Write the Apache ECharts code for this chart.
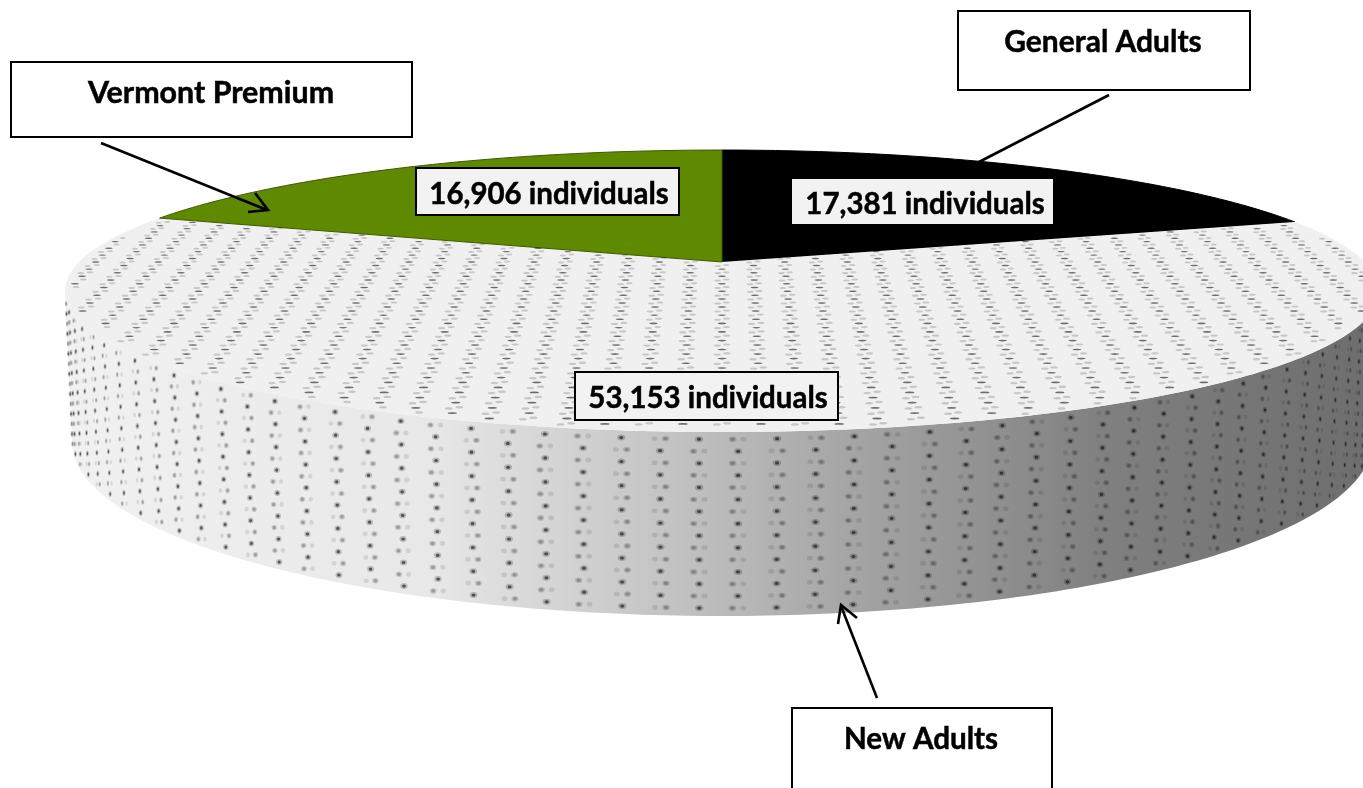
<!DOCTYPE html>
<html>
<head>
<meta charset="utf-8">
<style>html,body{margin:0;padding:0;background:#fff;overflow:hidden}#c{width:1363px;height:788px}</style>
<script src="https://cdn.jsdelivr.net/npm/echarts@6/dist/echarts.min.js"></script>
</head>
<body>
<div id="c"></div>
<script>
// clockwise from twelve o'clock
const categories = ['General Adults', 'New Adults', 'Vermont Premium'];
const individuals = [17381, 53153, 16906];
const sliceColors = ['#000000', '#f0f0f0', '#5f8a00'];
const valueSuffix = ' individuals';

const total = individuals.reduce((a, b) => a + b, 0);
const TAU = Math.PI * 2;
// tilted disc: perspective projection of the unit circle
const CX = 722, APEX_Y = 262, R = 643, S = 135, K = 0.2057;
const project = (u, v) => { const w = 1 + K * v; return [CX + R * u / w, APEX_Y - S * v / w]; };
// rim ellipses
const TOP = { rx: 657, ry: 141, cy: 291 }, BOT = { rx: 650, ry: 174, cy: 442 };
const rim = (e, phi) => [CX + e.rx * Math.sin(phi), e.cy + e.ry * Math.cos(phi)];

const layout = [
  { valueBox: [792, 179, 261, 45], valueText: [925, 204], border: false, titleScale: 0.966,
    box: [958, 11, 292, 79], title: [1103, 42], line: [[1109, 95], [977, 163]], head: null },
  { valueBox: [575, 372, 263, 48], valueText: [708, 398], border: true, titleScale: 0.956,
    box: [792, 708, 260, 100], title: [921, 739], line: [[877, 698], [841, 606]], head: [[838, 624], [841, 605], [857, 618]] },
  { valueBox: [416, 168, 263, 47], valueText: [549, 194], border: true, titleScale: 0.98,
    box: [11, 62, 401, 75], title: [211, 93], line: [[101, 143], [267, 210]], head: [[248, 212], [268, 210], [255, 193]] }
];
const VALUE_SCALE = 0.95;

function blob(cx, cy, a, b) {
  return 'M' + (cx - a).toFixed(1) + ' ' + cy.toFixed(1) +
    'Q' + (cx - a).toFixed(1) + ' ' + (cy - b).toFixed(1) + ' ' + cx.toFixed(1) + ' ' + (cy - b).toFixed(1) +
    'Q' + (cx + a).toFixed(1) + ' ' + (cy - b).toFixed(1) + ' ' + (cx + a).toFixed(1) + ' ' + cy.toFixed(1) +
    'Q' + (cx + a).toFixed(1) + ' ' + (cy + b).toFixed(1) + ' ' + cx.toFixed(1) + ' ' + (cy + b).toFixed(1) +
    'Q' + (cx - a).toFixed(1) + ' ' + (cy + b).toFixed(1) + ' ' + (cx - a).toFixed(1) + ' ' + cy.toFixed(1) + 'Z';
}
function sideTexture() {
  const layers = { hi: '', hiGlow: '', mid: '', midGlow: '', low: '' };
  const dPhi = 0.0595, phi0 = -0.035, N = 15.25;
  for (let j = -27; j <= 26; j++) {
    const phi = phi0 + j * dPhi;
    if (Math.abs(phi) > 1.56) continue;
    const c = Math.cos(phi), sx = Math.max(c, 0.35);
    const a = rim(TOP, phi), b = rim(BOT, phi);
    for (let i = 0; i < 16; i++) {
      const t = (i + 0.6) / N;
      if (t > 0.985) continue;
      const x = a[0] + (b[0] - a[0]) * t, y = a[1] + (b[1] - a[1]) * t;
      if ((i + j) % 2 === 0) {
        layers.hi += blob(x, y, 2.1 * sx, 1.6);
        layers.hiGlow += blob(x, y, 4.2 * sx, 3);
      } else {
        const off = 5.5 * c, left = (j % 4 + 4) % 4 < 2;
        layers.mid += blob(x + (left ? -off : off), y, 2.2 * sx, 1.7);
        layers.midGlow += blob(x + (left ? -off : off), y, 3.8 * sx, 2.8);
        layers.low += blob(x + (left ? off : -off), y, 3 * sx, 2.4);
      }
    }
  }
  return layers;
}
function topTexture(start, end) {
  const dark = [], faint = [];
  const du = 0.0487, dv = 0.026;
  const inSlice = (u, v) => {
    if (u * u + v * v > 0.975) return false;
    let th = Math.atan2(u, v); if (th < 0) th += TAU;
    return th > start + 0.01 && th < end - 0.01;
  };
  for (let k = -21; k <= 21; k++) {
    for (let m = -39; m <= 39; m++) {
      const u = k * du, v = m * dv;
      if ((k + m) % 2 === 0) {
        if (!inSlice(u, v)) continue;
        const p = project(u, v), sc = 1 / (1 + K * v);
        dark.push(blob(p[0], p[1], 3.8 * sc, 0.7 * sc));
      } else {
        [-0.0065, 0.0065].forEach(off => {
          if (!inSlice(u + off, v)) return;
          const p = project(u + off, v + off * 0.5), sc = 1 / (1 + K * v);
          faint.push(blob(p[0], p[1], 3.2 * sc, 1 * sc));
        });
      }
    }
  }
  return { dark: dark.join(''), faint: faint.join('') };
}

function renderItem(params, api) {
  const i = params.dataIndex;
  let before = 0;
  for (let n = 0; n < i; n++) before += individuals[n];
  const start = before / total * TAU, end = (before + api.value(0)) / total * TAU;
  const L = layout[i], children = [];

  const pts = [project(0, 0)];
  const steps = Math.max(24, Math.round((end - start) * 50));
  for (let s = 0; s <= steps; s++) {
    const a = start + (end - start) * s / steps;
    pts.push(project(Math.sin(a), Math.cos(a)));
  }
  children.push({ type: 'polygon', z2: 3, shape: { points: pts },
    style: { fill: sliceColors[i], stroke: i === 1 ? null : (i === 2 ? '#3d5a00' : '#000'), lineWidth: 1 } });

  if (i === 1) {
    const sidePts = [];
    for (let s = -90; s <= 90; s++) sidePts.push(rim(TOP, s * Math.PI / 180));
    for (let s = 90; s >= -90; s--) sidePts.push(rim(BOT, s * Math.PI / 180));
    children.push({ type: 'polygon', z2: 1, shape: { points: sidePts },
      style: { fill: new echarts.graphic.LinearGradient(65, 0, 1363, 0, [
        { offset: 0, color: '#f1f1f1' }, { offset: 0.28, color: '#e8e8e8' },
        { offset: 0.37, color: '#d6d6d6' }, { offset: 0.48, color: '#c0c0c0' },
        { offset: 0.6, color: '#a6a6a6' }, { offset: 0.8, color: '#808080' },
        { offset: 1, color: '#6e6e6e' }], true) } });
    const side = sideTexture();
    [['hiGlow', 0.2], ['hi', 0.55], ['midGlow', 0.14], ['mid', 0.22], ['low', 0.1]].forEach(d => {
      children.push({ type: 'path', z2: 2, shape: { pathData: side[d[0]] },
        style: { fill: 'rgba(0,0,0,' + d[1] + ')' } });
    });
    const tex = topTexture(start, end);
    children.push({ type: 'path', z2: 4, shape: { pathData: tex.faint }, style: { fill: 'rgba(0,0,0,0.17)' } });
    children.push({ type: 'path', z2: 4, shape: { pathData: tex.dark }, style: { fill: 'rgba(0,0,0,0.55)' } });
  }

  const textFont = '700 31px Lato';
  children.push({ type: 'rect', z2: 7, shape: { x: L.valueBox[0], y: L.valueBox[1], width: L.valueBox[2], height: L.valueBox[3] },
    style: { fill: '#f2f2f2', stroke: L.border ? '#000' : null, lineWidth: 2 } });
  children.push({
    type: 'text', z2: 8, x: L.valueText[0], y: L.valueText[1], scaleX: VALUE_SCALE,
    style: { text: api.value(0).toLocaleString('en-US') + valueSuffix, font: textFont, fill: '#000',
      stroke: '#000', lineWidth: 0.5, align: 'center', verticalAlign: 'middle' }
  });
  children.push({ type: 'rect', z2: 7, shape: { x: L.box[0], y: L.box[1], width: L.box[2], height: L.box[3] },
    style: { fill: '#fff', stroke: '#000', lineWidth: 2 } });
  children.push({
    type: 'text', z2: 8, x: L.title[0], y: L.title[1], scaleX: L.titleScale,
    style: { text: categories[i], font: textFont, fill: '#000', stroke: '#000', lineWidth: 0.5,
      align: 'center', verticalAlign: 'middle' }
  });
  children.push({ type: 'polyline', z2: 9, shape: { points: L.line }, style: { fill: null, stroke: '#000', lineWidth: 2.6 } });
  if (L.head) children.push({ type: 'polyline', z2: 9, shape: { points: L.head }, style: { fill: null, stroke: '#000', lineWidth: 2.6 } });
  return { type: 'group', children };
}

const chart = echarts.init(document.getElementById('c'), null, { renderer: 'canvas', width: 1363, height: 788 });
chart.setOption({
  animation: false,
  backgroundColor: '#fff',
  series: [{
    type: 'custom',
    coordinateSystem: 'none',
    renderItem,
    silent: true,
    data: individuals.map((v, i) => ({ name: categories[i], value: [v] }))
  }]
});
</script>
</body>
</html>
